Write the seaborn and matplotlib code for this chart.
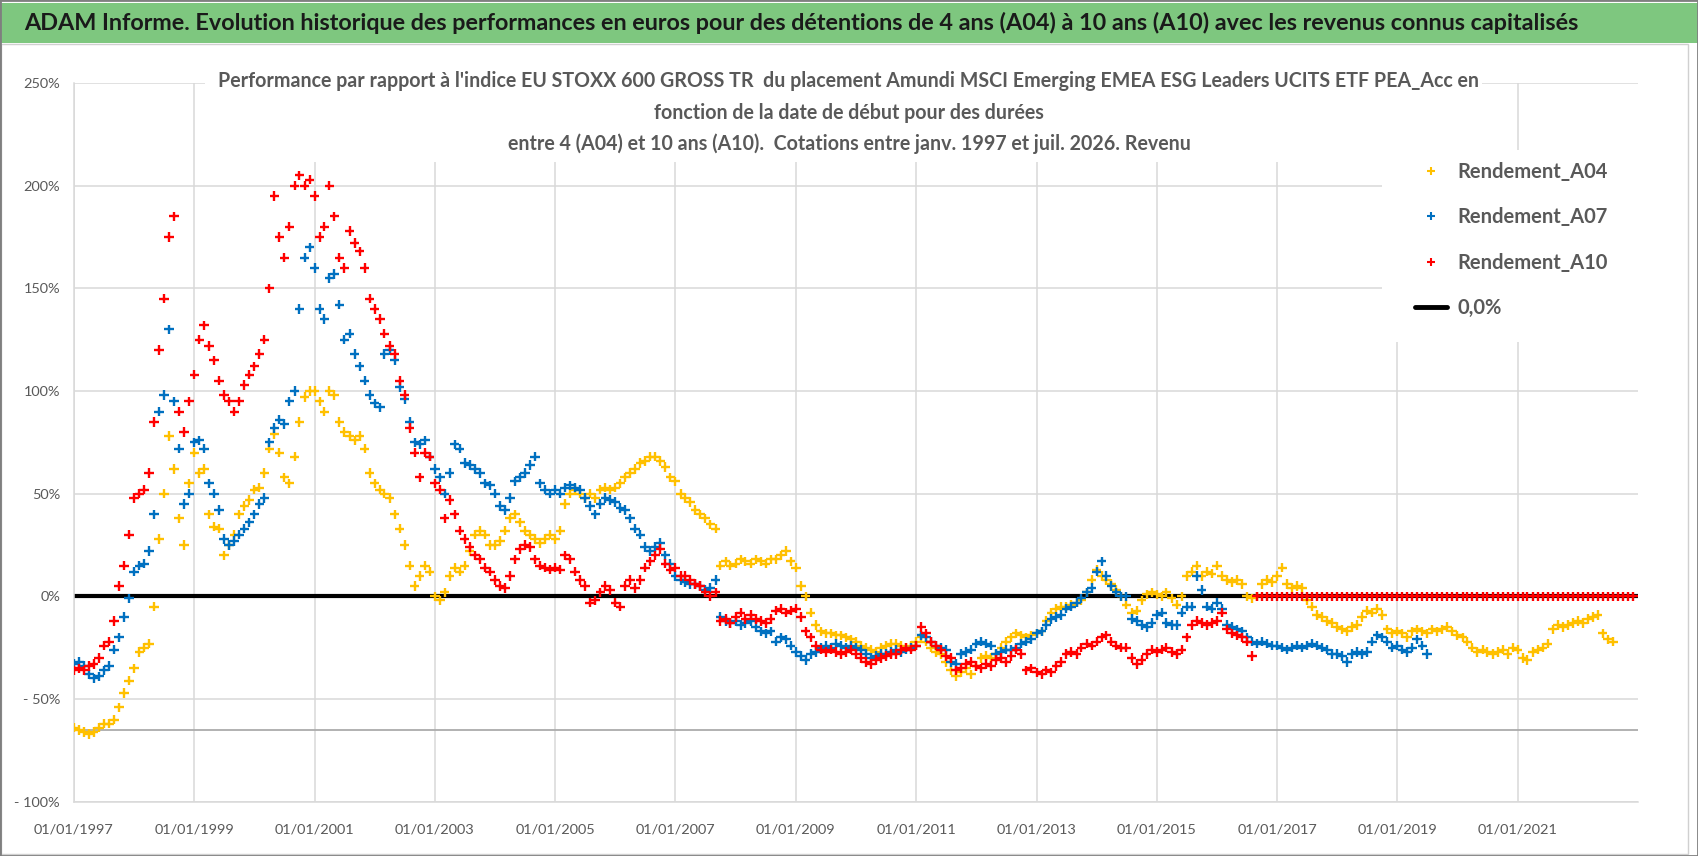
import matplotlib

matplotlib.use("Agg")
import matplotlib.pyplot as plt
import pandas as pd
import seaborn as sns
from matplotlib.lines import Line2D
from matplotlib.patches import Rectangle

SERIES = ["Rendement_A04", "Rendement_A07", "Rendement_A10"]
COLORS = ["#FFC000", "#0070C0", "#FF0000"]
START = "1997-01-01"

# monthly readings (%), one row per year from 1997
A04 = [
    -64, -65, -66, -67, -66, -64, -62, -62, -60, -54, -47, -41,
    -35, -27, -25, -23, -5, 28, 50, 78, 62, 38, 25, 55,
    70, 60, 62, 40, 34, 33, 20, 25, 30, 40, 44, 47,
    52, 53, 60, 72, 79, 70, 58, 55, 68, 85, 97, 100,
    100, 95, 90, 100, 98, 85, 80, 78, 76, 78, 72, 60,
    55, 52, 50, 48, 40, 33, 25, 15, 5, 10, 15, 12,
    0, -2, 2, 10, 14, 12, 15, 22, 30, 32, 30, 25,
    25, 27, 32, 38, 40, 36, 32, 30, 28, 26, 28, 30,
    28, 32, 45, 50, 52, 50, 48, 50, 48, 52, 53, 52,
    53, 55, 58, 60, 62, 65, 66, 68, 68, 66, 63, 58,
    56, 50, 48, 46, 42, 40, 38, 35, 33, 15, 17, 15,
    16, 18, 17, 16, 18, 17, 16, 18, 18, 20, 22, 17,
    14, 5, 0, -8, -14, -17, -18, -18, -19, -19, -20, -21,
    -22, -24, -25, -26, -27, -25, -24, -23, -23, -24, -25, -24,
    -22, -20, -22, -25, -27, -28, -32, -36, -39, -37, -35, -38,
    -34, -30, -29, -30, -28, -25, -22, -20, -18, -19, -20, -19,
    -18, -17, -12, -8, -6, -5, -5, -4, -3, -2, 2, 8,
    13, 10, 8, 6, 3, 0, -4, -8, -7, -2, 1, 2,
    1, 0, 2, -1, -4, 0, 10, 12, 15, 10, 12, 11,
    15, 10, 8, 7, 8, 6, 0, -1, 0, 6, 8, 7,
    10, 14, 6, 4, 5, 4, -2, -5, -9, -10, -12, -13,
    -15, -16, -17, -15, -14, -10, -7, -8, -6, -9, -16, -18,
    -17, -18, -20, -17, -16, -17, -18, -16, -17, -16, -15, -17,
    -19, -20, -22, -25, -27, -26, -27, -28, -27, -26, -28, -25,
    -26, -30, -31, -27, -26, -25, -23, -16, -14, -15, -14, -13,
    -12, -13, -11, -10, -9, -18, -21, -22,
]
A07 = [
    -33, -32, -34, -38, -40, -39, -36, -34, -26, -20, -10, -1,
    12, 15, 16, 22, 40, 90, 98, 130, 95, 72, 45, 50,
    75, 76, 72, 55, 50, 42, 28, 25, 27, 30, 33, 36,
    40, 45, 48, 75, 82, 86, 84, 95, 100, 140, 165, 170,
    160, 140, 135, 155, 157, 142, 125, 128, 118, 112, 105, 98,
    94, 92, 118, 120, 115, 102, 96, 85, 75, 74, 76, 68,
    62, 58, 50, 60, 74, 72, 65, 64, 62, 60, 55, 54,
    50, 44, 42, 48, 56, 58, 60, 64, 68, 55, 52, 50,
    52, 50, 53, 54, 53, 52, 48, 44, 40, 45, 48, 47,
    46, 43, 42, 38, 33, 30, 24, 22, 24, 26, 20, 16,
    10, 8, 7, 6, 6, 5, 3, 4, 8, -10, -12, -13,
    -12, -14, -13, -12, -15, -17, -18, -17, -22, -20, -21, -24,
    -27, -29, -31, -28, -27, -25, -24, -25, -23, -24, -25, -24,
    -25, -26, -28, -30, -29, -28, -28, -27, -26, -27, -26, -25,
    -24, -19, -20, -22, -24, -25, -26, -32, -33, -28, -27, -26,
    -23, -22, -23, -24, -28, -27, -26, -26, -25, -23, -22, -21,
    -18, -17, -14, -11, -10, -9, -6, -5, -3, -1, 2, 4,
    12, 17, 10, 5, 2, 0, 0, -11, -12, -14, -15, -13,
    -9, -8, -13, -14, -14, -8, -5, -5, 10, 3, -5, -6,
    -3, -6, -14, -15, -16, -17, -20, -22, -23, -22, -23, -24,
    -24, -25, -26, -25, -24, -25, -24, -23, -24, -25, -26, -28,
    -28, -29, -32, -28, -27, -28, -27, -22, -19, -20, -22, -25,
    -24, -26, -27, -25, -21, -24, -28,
]
A10 = [
    -36, -35, -36, -34, -33, -30, -24, -22, -12, 5, 15, 30,
    48, 50, 52, 60, 85, 120, 145, 175, 185, 90, 80, 95,
    108, 125, 132, 122, 115, 105, 98, 95, 90, 95, 103, 108,
    112, 118, 125, 150, 195, 175, 165, 180, 200, 205, 200, 203,
    195, 175, 180, 200, 185, 165, 160, 178, 172, 168, 160, 145,
    140, 135, 128, 122, 118, 105, 98, 82, 70, 58, 70, 68,
    55, 52, 38, 47, 40, 32, 28, 24, 20, 18, 14, 12,
    8, 5, 4, 10, 18, 23, 25, 24, 18, 15, 14, 13,
    14, 13, 20, 18, 12, 8, 5, -3, -2, 2, 5, 3,
    -3, -5, 5, 8, 4, 8, 14, 17, 20, 23, 16, 13,
    14, 10, 10, 8, 6, 5, 2, 0, 2, -12, -11, -13,
    -10, -8, -11, -9, -11, -12, -13, -11, -7, -6, -8, -7,
    -6, -10, -17, -20, -24, -26, -27, -26, -27, -28, -27, -26,
    -28, -30, -32, -33, -31, -30, -29, -28, -28, -26, -25, -26,
    -24, -15, -18, -22, -24, -26, -29, -30, -36, -35, -33, -32,
    -34, -35, -33, -34, -31, -30, -32, -29, -26, -28, -36, -35,
    -37, -38, -36, -37, -34, -32, -28, -27, -28, -25, -23, -24,
    -22, -20, -19, -22, -24, -25, -25, -30, -33, -31, -28, -26,
    -27, -26, -25, -27, -28, -26, -20, -14, -12, -13, -14, -13,
    -12, -8, -16, -18, -19, -20, -22, -29, 0, 0, 0, 0,
    0, 0, 0, 0, 0, 0, 0, 0, 0, 0, 0, 0,
    0, 0, 0, 0, 0, 0, 0, 0, 0, 0, 0, 0,
    0, 0, 0, 0, 0, 0, 0, 0, 0, 0, 0, 0,
    0, 0, 0, 0, 0, 0, 0, 0, 0, 0, 0, 0,
    0, 0, 0, 0, 0, 0, 0, 0, 0, 0, 0, 0,
    0, 0, 0, 0, 0, 0, 0, 0, 0, 0, 0, 0,
]

TICK_YEARS = [1997, 1999, 2001, 2003, 2005, 2007, 2009, 2011, 2013, 2015, 2017, 2019, 2021]
Y_TICKS = [-100, -50, 0, 50, 100, 150, 200, 250]
Y_LABELS = ["- 100%", "- 50%", "0%", "50%", "100%", "150%", "200%", "250%"]
ZERO_LABEL = "0,0%"

HEADER = ("ADAM Informe. Evolution historique des performances en euros pour des détentions "
          "de 4 ans (A04) à 10 ans (A10) avec les revenus connus capitalisés")
SUBTITLE = [
    "Performance par rapport à l'indice EU STOXX 600 GROSS TR  du placement Amundi MSCI "
    "Emerging EMEA ESG Leaders UCITS ETF PEA_Acc en",
    "fonction de la date de début pour des durées",
    "entre 4 (A04) et 10 ans (A10).  Cotations entre janv. 1997 et juil. 2026. Revenu",
]

sns.set_theme(style="white")
plt.rcParams["font.family"] = ["Lato", "DejaVu Sans"]

W, H = 1698, 856
GREY = "#595959"


def fx(x):
    return x / W


def fy(y):
    return 1 - y / H


def fit_width(text, width_px):
    renderer = fig.canvas.get_renderer()
    current = text.get_window_extent(renderer).width
    text.set_fontsize(text.get_fontsize() * width_px / current)
    return text.get_fontsize()


def size_for(label, width_px, **kw):
    probe = fig.text(0, 0, label, fontsize=12, **kw)
    size = fit_width(probe, width_px)
    probe.remove()
    return size


frames = [
    pd.DataFrame({"date": pd.date_range(START, periods=len(vals), freq="MS"), "pct": vals, "series": name})
    for name, vals in zip(SERIES, [A04, A07, A10])
]
data = pd.concat(frames, ignore_index=True)

fig = plt.figure(figsize=(W / 100, H / 100), dpi=100)
ax = fig.add_axes([fx(74), fy(801.7), (1638 - 74) / W, (801.7 - 83) / H])

ax.axhline(0, color="black", lw=3, zorder=2)
ax.axhline(-65, color="#ABABAB", lw=1.3, zorder=1)
sns.scatterplot(
    data, x="date", y="pct", hue="series", palette=dict(zip(SERIES, COLORS)),
    marker="+", s=46, linewidth=1.7, ax=ax, legend=False, zorder=3,
)

tick_size = size_for("01/01/1997", 80)
ax.set_xlim(pd.Timestamp("1997-01-01"), pd.Timestamp("2023-01-01"))
ax.set_ylim(-100, 250)
ax.set_xticks(pd.to_datetime([f"{y}-01-01" for y in TICK_YEARS]))
ax.set_xticklabels([f"01/01/{y}" for y in TICK_YEARS])
ax.set_yticks(Y_TICKS)
ax.set_yticklabels(Y_LABELS)
ax.set(xlabel="", ylabel="")
ax.grid(True, color="#D9D9D9", lw=1.1)
ax.set_axisbelow(True)
for side in ["top", "right"]:
    ax.spines[side].set_visible(False)
for side in ["left", "bottom"]:
    ax.spines[side].set_color("#D9D9D9")
    ax.spines[side].set_linewidth(1.1)
ax.tick_params(axis="both", length=0, labelsize=tick_size, labelcolor=GREY)
ax.tick_params(axis="x", pad=16)
ax.tick_params(axis="y", pad=10)

# header band and frame
fig.add_artist(Rectangle((0, fy(43)), 1, 40 / H, transform=fig.transFigure,
                         facecolor="#7EC77F", edgecolor="none", zorder=0))
fig.add_artist(Rectangle((fx(1), fy(854)), fx(1687), (854 - 44) / H, transform=fig.transFigure,
                         fill=False, edgecolor="#D0D0D0", lw=1.0, zorder=0))
fig.add_artist(Rectangle((0, 0), 1, 1, transform=fig.transFigure,
                         fill=False, edgecolor="#7F7F7F", lw=2.0, zorder=5))

# white boxes behind the chart title and the legend
fig.add_artist(Rectangle((fx(205), fy(162)), (1482 - 205) / W, (162 - 58) / H,
                         transform=fig.transFigure, facecolor="white", edgecolor="none", zorder=1))
fig.add_artist(Rectangle((fx(1382), fy(342)), (1640 - 1382) / W, (342 - 150) / H,
                         transform=fig.transFigure, facecolor="white", edgecolor="none", zorder=1))

header = fig.text(fx(24), fy(23), HEADER, ha="left", va="center", weight="bold",
                  color="#1A1A1A", fontsize=20, zorder=3)
sub = [
    fig.text(fx(849), fy(y), line, ha="center", va="center", weight="bold",
             color=GREY, fontsize=14, zorder=3)
    for y, line in zip([81, 113, 144], SUBTITLE)
]
fit_width(header, 1559)
fit_width(sub[0], 1269)
for t in sub[1:]:
    t.set_fontsize(sub[0].get_fontsize())

# legend: text from x=1457, rows centred at y=174, 223, 273, 323
leg_size = size_for("Rendement_A04", 150, weight="bold")
f_px = leg_size * 100 / 72
row_h = 1.2 * f_px
handles = [Line2D([], [], marker="+", color=c, ls="none", markersize=6, mew=1.5) for c in COLORS]
handles.append(Line2D([], [], color="black", lw=3.5))
leg = fig.legend(
    handles, SERIES + [ZERO_LABEL], loc="upper left",
    bbox_to_anchor=(fx(1457 - 2.1 * f_px), fy(174 - row_h / 2)),
    frameon=False, borderpad=0, borderaxespad=0, handlelength=1.6, handletextpad=0.5,
    labelspacing=(49.7 - row_h) / f_px, prop={"weight": "bold", "size": leg_size}, labelcolor=GREY,
)
leg.set_zorder(4)

fig.savefig("out.png", dpi=100)
